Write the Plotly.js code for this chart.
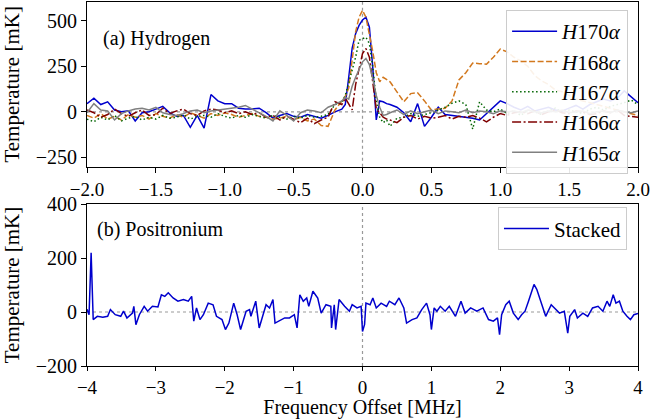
<!DOCTYPE html>
<html>
<head>
<meta charset="utf-8">
<script src="https://cdn.plot.ly/plotly-3.0.1.min.js"></script>
<style>
  html, body { margin: 0; padding: 0; background: #fff; }
  #chart { width: 650px; height: 419px; }
</style>
</head>
<body>
<div id="chart"></div>
<script>
// (a) hydrogen recombination lines, frequency offset in MHz, temperature in mK
const freqH = [-2.00, -1.95, -1.90, -1.85, -1.80, -1.75, -1.70, -1.65, -1.60, -1.55,
    -1.50, -1.45, -1.40, -1.35, -1.30, -1.25, -1.20, -1.15, -1.10, -1.05,
    -1.00, -0.95, -0.90, -0.85, -0.80, -0.75, -0.70, -0.65, -0.60, -0.55,
    -0.50, -0.45, -0.40, -0.35, -0.30, -0.25, -0.20, -0.15,
    -0.125, -0.10, -0.075, -0.05, -0.025, 0, 0.025, 0.05, 0.075, 0.10, 0.125, 0.15, 0.175,
    0.20, 0.25, 0.30, 0.35, 0.40, 0.45, 0.50, 0.55, 0.60, 0.65, 0.70, 0.75, 0.80, 0.85, 0.90, 0.95, 1.00,
    1.05, 1.10, 1.15, 1.20, 1.25, 1.30, 1.35, 1.40, 1.45, 1.50, 1.55, 1.60, 1.65, 1.70, 1.75, 1.80, 1.85, 1.90, 1.95, 2.00];

const h170 = [45, 75, 40, 55, 10, 0, 5, -50, -5, 0,
    15, 30, -5, -25, -20, -85, -20, -90, 95, 60,
    45, 45, 20, 15, 15, 20, -5, -35, -20, -10,
    -25, -30, -15, -25, -35, -20, 0, 15,
    40, 190, 350, 430, 475, 505, 520, 465, 240, -45, 60, 55, 45,
    40, 25, -5, -55, 45, -80, -30, 25, -15, -20, -25, -30, -35, -45, -10, 25, 60,
    45, 25, 10, 30, 5, 15, 25, 10, 5, 20, 35, 15, 40, 55, 70, 60, 75, 115, 80, 50];

const h168 = [-20, -35, -10, -40, -25, -45, -15, -30, -20, -40,
    -10, -25, -35, -15, -30, -5, -20, -35, -10, -20,
    -5, -15, -30, -20, -10, -25, -30, -40, -35, -25,
    -45, -30, -50, -40, -75, -80, 10, 60,
    85, 130, 300, 440, 520, 558, 520, 430, 330, 215, 165, 190, 175,
    165, 110, 55, 100, 105, 60, 10, 15, 20, 60, 175, 215, 268, 265, 262, 300, 345,
    330, 300, 280, 250, 200, 170, 150, 120, 110, 90, 70, 60, 50, 40, 30, 20, 10, 0, -10, -20];

const h167 = [-40, -55, -30, -45, -20, -50, -35, -25, -45, -30,
    -40, -20, -35, -30, -15, -40, -25, -20, -30, -10,
    -25, -35, -20, -30, -15, -25, -35, -20, -30, -40,
    -25, -35, -20, -30, -25, -15, 40, 50,
    90, 160, 230, 300, 394, 400, 410, 375, 245, 60, -30, -60, -45,
    -80, -35, -30, -10, -25, -15, -5, 10, 25, 47, 60, 40, -95, 55, 10, 0, 15,
    -10, 5, -20, 10, 0, -15, 5, 20, -5, 10, 0, -10, 15, 25, 10, 30, 40, 50, 65, 40];

const h166 = [10, -5, -30, -15, 15, -10, -25, -5, 10, -20,
    -15, 20, -10, 5, 15, -10, -20, 5, 15, 10,
    -5, 5, -10, 0, -15, -5, -30, -20, -45, -25,
    -40, -60, -35, -65, -45, -30, 55, 40,
    75, 45, 10, 150, 245, 320, 348, 300, 160, 15, -5, -30, -40,
    -45, -60, -30, -20, -40, -25, -35, -30, -20, -40, -25, -30, -20, -35, -55, -30, -10,
    -20, -5, 0, -10, 5, -15, 0, 10, -5, -10, 5, 0, -15, -10, 5, -5, 10, -20, -25, -30];

const h165 = [-5, 45, 10, 5, -45, -10, 5, 15, 20, 10,
    25, -5, -15, -20, -10, 5, 10, -5, 5, 10,
    15, 20, 25, 35, 15, -5, -25, -50, 5, -20,
    -50, -5, 10, 5, -5, 25, 40, 60,
    80, 70, 140, 190, 235, 275, 294, 260, 180, 90, 25, -20, -15,
    -5, 10, -15, 5, -10, 0, 10, -10, 5, 0, -5, 10, -5, 5, 0, -10, 5,
    0, 5, -5, 10, 0, -5, 5, 0, 10, -5, 0, 5, -10, 0, 5, -5, 10, 0, -5, 5];

// (b) positronium stacked spectrum
const freqPs = [-4.00, -3.97, -3.94, -3.91, -3.85, -3.77, -3.70, -3.66, -3.59, -3.51,
    -3.47, -3.42, -3.34, -3.32, -3.29, -3.24, -3.17, -3.12, -3.05, -2.97,
    -2.92, -2.87, -2.82, -2.75, -2.68, -2.60, -2.53, -2.48, -2.45, -2.41,
    -2.36, -2.31, -2.24, -2.17, -2.12, -2.04, -1.99, -1.94, -1.87, -1.82,
    -1.77, -1.69, -1.64, -1.62, -1.55, -1.50, -1.45, -1.40, -1.35, -1.30,
    -1.27, -1.21, -1.13, -1.06, -0.99, -0.95, -0.91, -0.86, -0.81, -0.78,
    -0.72, -0.65, -0.60, -0.53, -0.46, -0.45, -0.41, -0.39, -0.34, -0.26,
    -0.19, -0.15, -0.08, -0.02, 0.00, 0.03, 0.05, 0.11, 0.15, 0.20,
    0.27, 0.35, 0.39, 0.47, 0.53, 0.60, 0.64, 0.72, 0.79, 0.86,
    0.93, 0.98, 1.00, 1.04, 1.08, 1.13, 1.20, 1.26, 1.35, 1.43,
    1.49, 1.57, 1.66, 1.75, 1.83, 1.90, 1.96, 1.99, 2.02, 2.08,
    2.13, 2.19, 2.26, 2.31, 2.36, 2.41, 2.49, 2.53, 2.60, 2.66,
    2.74, 2.79, 2.86, 2.93, 2.98, 3.01, 3.08, 3.12, 3.20, 3.27,
    3.34, 3.42, 3.49, 3.55, 3.59, 3.64, 3.68, 3.73, 3.78, 3.84,
    3.89, 3.94, 4.00];

const stacked = [10, -10, 219, -28, -16, -19, -16, 9, -10, -16,
    3, -22, -4, 21, -47, -10, 21, 3, 21, 19,
    64, 58, 71, 52, 40, 46, 40, 58, -34, 15,
    -28, -10, 33, 27, -16, -28, -65, -41, 33, -10,
    -65, 3, 9, -16, 40, -59, -16, 27, 15, 46,
    -41, -34, -22, -22, -10, -59, 64, 40, 52, 21,
    77, 52, -4, 27, 21, -59, 27, -65, 46, 21,
    3, 27, 15, 21, -72, -46, 33, 27, 52, 15,
    33, 21, 40, 27, 52, 15, -41, -28, -22, 9,
    33, -10, -65, 15, 3, 21, 3, 21, -16, 40,
    -4, 15, 3, 15, -28, -34, -22, -84, -10, 27,
    40, -4, -28, -10, 3, 40, 102, 84, 33, -16,
    27, 15, -4, 3, -78, -16, 9, -22, -4, -16,
    15, 21, 3, 40, 21, 64, 33, 40, 3, -16,
    -28, -10, -5];

const hNames = ['<i>H</i>170<i>α</i>', '<i>H</i>168<i>α</i>', '<i>H</i>167<i>α</i>',
    '<i>H</i>166<i>α</i>', '<i>H</i>165<i>α</i>'];
const hSeries = [h170, h168, h167, h166, h165];
const hColors = ['#0000cd', '#d2781e', '#006400', '#7f0000', '#808080'];
const hDashes = ['solid', '6px,2.5px', '1.5px,2.5px', '9px,2.5px,2px,2.5px', 'solid'];

const xTicksTop = [-2, -1.5, -1, -0.5, 0, 0.5, 1, 1.5, 2];
const yTicksTop = [-250, 0, 250, 500];
const xTicksBot = [-4, -3, -2, -1, 0, 1, 2, 3, 4];
const yTicksBot = [-200, 0, 200, 400];

const FONT = 'Liberation Serif, Times New Roman, serif';

const traces = hSeries.map((ys, i) => ({
    x: freqH, y: ys, type: 'scatter', mode: 'lines',
    name: hNames[i], legendgroup: 'g' + i, legend: 'legend',
    xaxis: 'x', yaxis: 'y',
    line: { color: hColors[i], width: 1.5, dash: hDashes[i] },
}));
traces.push({
    x: freqPs, y: stacked, type: 'scatter', mode: 'lines',
    name: 'Stacked', legend: 'legend2', xaxis: 'x2', yaxis: 'y2',
    line: { color: '#0000cd', width: 1.5 },
});

const axisBase = {
    showline: true, mirror: true, linecolor: '#000', linewidth: 1,
    ticks: 'outside', ticklen: 5, tickwidth: 1, tickcolor: '#000',
    showgrid: false, zeroline: false, ticklabeloverflow: 'allow',
    tickfont: { family: FONT, size: 20, color: '#000' },
};
const xTickFont = { family: FONT, size: 19, color: '#000' };
const yTitleFont = { family: FONT, size: 21, color: '#000' };
const xTitleFont = { family: FONT, size: 20, color: '#000' };

const dotted = { color: '#999', width: 1.2, dash: 'dot' };

const layout = {
    width: 650, height: 419,
    margin: { l: 87, r: 12, t: 2, b: 53 },
    paper_bgcolor: '#fff', plot_bgcolor: '#fff',
    font: { family: FONT, size: 20, color: '#000' },
    xaxis: Object.assign({}, axisBase, {
        domain: [0, 1], anchor: 'y', range: [-2, 2],
        tickvals: xTicksTop, tickformat: '.1f', tickfont: xTickFont,
    }),
    yaxis: Object.assign({}, axisBase, {
        domain: [0.5475, 1], anchor: 'x', range: [-302, 604],
        tickvals: yTicksTop,
        title: { text: 'Temperature [mK]', font: yTitleFont, standoff: 11 },
    }),
    xaxis2: Object.assign({}, axisBase, {
        domain: [0, 1], anchor: 'y2', range: [-4, 4],
        tickvals: xTicksBot, tickfont: xTickFont, ticklen: 4,
        title: { text: 'Frequency Offset [MHz]', font: xTitleFont, standoff: 7 },
    }),
    yaxis2: Object.assign({}, axisBase, {
        domain: [0, 0.445], anchor: 'x2', range: [-200, 400],
        tickvals: yTicksBot,
        title: { text: 'Temperature [mK]', font: yTitleFont, standoff: 11 },
    }),
    legend: {
        x: 0.982, y: 0.978, xanchor: 'right', yanchor: 'top',
        bgcolor: 'rgba(255,255,255,0.9)', bordercolor: '#cccccc', borderwidth: 1,
        font: { family: FONT, size: 21, color: '#000' },
        itemwidth: 45, tracegroupgap: 0, traceorder: 'normal',
    },
    legend2: {
        x: 0.98, y: 0.436, xanchor: 'right', yanchor: 'top',
        bgcolor: 'rgba(255,255,255,0.9)', bordercolor: '#cccccc', borderwidth: 1,
        font: { family: FONT, size: 21, color: '#000' },
        itemwidth: 45,
    },
    shapes: [
        { type: 'line', xref: 'x', yref: 'y domain', x0: 0, x1: 0, y0: 0, y1: 1, line: dotted, layer: 'below' },
        { type: 'line', xref: 'x domain', yref: 'y', x0: 0, x1: 1, y0: 0, y1: 0, line: dotted, layer: 'below' },
        { type: 'line', xref: 'x2', yref: 'y2 domain', x0: 0, x1: 0, y0: 0, y1: 1, line: dotted, layer: 'below' },
        { type: 'line', xref: 'x2 domain', yref: 'y2', x0: 0, x1: 1, y0: 0, y1: 0, line: dotted, layer: 'below' },
    ],
    annotations: [
        { xref: 'x domain', yref: 'y domain', x: 0.026, y: 0.78, xanchor: 'left', yanchor: 'middle',
          text: '(a) Hydrogen', showarrow: false, font: { family: FONT, size: 20, color: '#000' } },
        { xref: 'x2 domain', yref: 'y2 domain', x: 0.015, y: 0.84, xanchor: 'left', yanchor: 'middle',
          text: '(b) Positronium', showarrow: false, font: { family: FONT, size: 20, color: '#000' } },
    ],
    showlegend: true,
};

Plotly.newPlot('chart', traces, layout, { displayModeBar: false, staticPlot: true });
</script>
</body>
</html>
